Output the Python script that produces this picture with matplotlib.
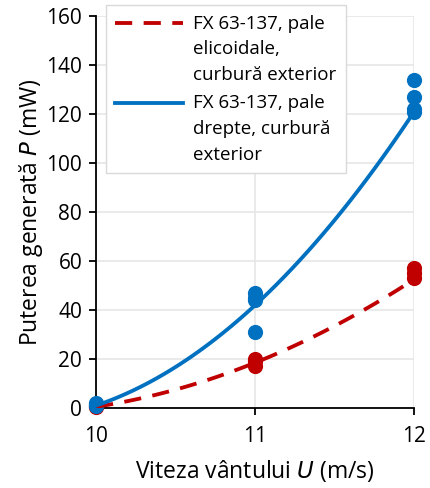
import numpy as np
import matplotlib.pyplot as plt

plt.rcParams['font.family'] = ['Open Sans', 'DejaVu Sans']

# measured points
blue_x = [10, 10, 10, 11, 11, 11, 11, 12, 12, 12, 12]
blue_y = [1, 2, 1.5, 47, 45, 44, 31, 134, 127, 122, 121]
red_x = [10, 10, 11, 11, 11, 12, 12, 12]
red_y = [0.5, 1, 20, 19, 17, 57, 55, 53]

# trendline values
trend_x = [10, 11, 12]
trend_blue = [1, 42, 121]
trend_red = [0.5, 18.5, 52.5]

labels = ['FX 63-137, pale\nelicoidale,\ncurbură exterior',
          'FX 63-137, pale\ndrepte, curbură\nexterior']
blue = '#0070c0'
red = '#c00000'

fig = plt.figure(figsize=(4.31, 4.88), dpi=100)
ax = fig.add_axes([0.223, 0.164, 0.738, 0.803])

xs = np.linspace(10, 12, 100)
pr = np.polyfit(trend_x, trend_red, 2)
pb = np.polyfit(trend_x, trend_blue, 2)

ax.scatter(red_x, red_y, s=120, color=red, zorder=3, linewidths=0, clip_on=False)
ax.scatter(blue_x, blue_y, s=120, color=blue, zorder=3, linewidths=0, clip_on=False)
ax.plot(xs, np.polyval(pr, xs), '--', color=red, lw=2.75, dashes=(4.5, 3), label=labels[0], zorder=4)
ax.plot(xs, np.polyval(pb, xs), '-', color=blue, lw=2.75, label=labels[1], zorder=4)

ax.set_xlim(10, 12)
ax.set_ylim(0, 160)
ax.set_xticks([10, 11, 12])
ax.set_yticks(np.arange(0, 161, 20))
ax.grid(True, color='#e6e6e6', lw=1.2)
ax.set_axisbelow(True)
for s in ['top', 'right']:
    ax.spines[s].set_visible(False)
for s in ['left', 'bottom']:
    ax.spines[s].set_linewidth(1.3)
ax.tick_params(labelsize=15, length=5, width=1.3)
ax.tick_params(axis='x', pad=8)
ax.tick_params(axis='y', pad=5)
ax.set_xlabel('Viteza vântului $\\mathit{U}$ (m/s)', fontsize=16.5, labelpad=8)
ax.set_ylabel('Puterea generată $\\mathit{P}$ (mW)', fontsize=16.5, labelpad=1)

leg = ax.legend(loc='upper left', bbox_to_anchor=(0.031, 1.028), fontsize=13.5,
                handlelength=3.6, handletextpad=0.55, frameon=True, fancybox=False,
                framealpha=1, edgecolor='#d9d9d9', borderpad=0.5, labelspacing=0.55,
                borderaxespad=0)
leg.get_frame().set_linewidth(1.0)
for t in leg.get_texts():
    t.set_linespacing(1.55)
# Excel puts the key line level with the first text line
for h in leg.legend_handles:
    y = h.get_ydata()
    h.set_ydata([v + 19 for v in y])

fig.savefig('out.png', dpi=100)
